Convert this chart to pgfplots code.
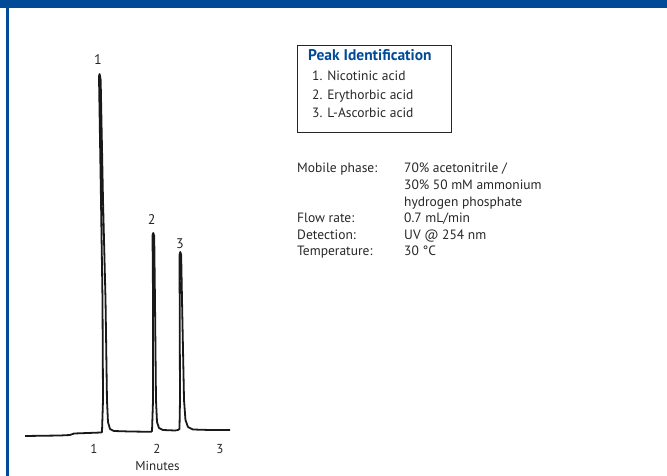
\documentclass[border=0pt]{standalone}
\usepackage{pgfplots}
\pgfplotsset{compat=1.18}
\usepackage{fontspec}
\setmainfont{PT Sans}
\definecolor{hdrblue}{RGB}{0,74,152}
\definecolor{txt}{RGB}{40,38,38}
\definecolor{trace}{RGB}{25,25,25}

\begin{document}
\begin{tikzpicture}
\useasboundingbox (0pt,0pt) rectangle (667pt,-476pt);
% header bar and left rule
\fill[hdrblue] (0pt,0pt) rectangle (667pt,-8pt);
\fill[hdrblue] (6pt,0pt) rectangle (8.7pt,-476pt);

% peak identification box
\draw[black!85, line width=0.9pt] (297pt,-45pt) rectangle (451pt,-132pt);
\begin{scope}[every node/.style={anchor=base west, inner sep=0pt, text=txt,
    font=\fontsize{13.5}{16}\selectfont}]
\node[text=hdrblue, font=\bfseries\fontsize{15.5}{18}\selectfont] at (308pt,-61pt) {Peak Identification};
\node at (312pt,-80.7pt) {1. Nicotinic acid};
\node at (312pt,-99.3pt) {2. Erythorbic acid};
\node at (312pt,-118pt) {3. L-Ascorbic acid};

% conditions
\node at (297pt,-173pt) {Mobile phase:};
\node at (404pt,-173pt) {70\% acetonitrile /};
\node at (404pt,-189.5pt) {30\% 50 mM ammonium};
\node at (404pt,-206pt) {hydrogen phosphate};
\node at (297pt,-222.5pt) {Flow rate:};
\node at (404pt,-222.5pt) {0.7 mL/min};
\node at (297pt,-239pt) {Detection:};
\node at (404pt,-239pt) {UV @ 254 nm};
\node at (297pt,-255.5pt) {Temperature:};
\node at (404pt,-255.5pt) {30 °C};
\end{scope}

\begin{axis}[
    at={(18.4pt,-441pt)}, anchor=south west,
    width=220.5pt, height=385pt, scale only axis,
    xmin=-0.2, xmax=3.3, ymin=35, ymax=420,
    axis y line=none, axis x line=bottom,
    x axis line style={draw=none},
    xtick={1,2,3}, major tick length=0pt,
    /pgf/number format/assume math mode=true,
    tick label style={text=txt, font=\fontsize{13}{15}\selectfont},
    xlabel={Minutes},
    xlabel style={at={(ticklabel cs:0.631)}, text=txt, font=\fontsize{13}{15}\selectfont, yshift=-1pt},
    clip=false,
  ]
\addplot[trace, line width=1.8pt, line join=round] coordinates {
  (-0.095,40) (0.46,40.5) (0.619,41) (0.683,42.5) (1.111,43.5)
  (1.127,44) (1.143,76) (1.135,176) (1.111,276) (1.079,400)
  (1.090,402)
  (1.106,396) (1.143,276) (1.183,176) (1.206,76) (1.222,54) (1.254,47) (1.317,45)
  (1.571,44.5) (1.905,44.2)
  (1.921,45) (1.937,76) (1.937,176) (1.929,241)
  (1.941,243)
  (1.956,240) (1.968,176) (1.984,76) (2.0,54) (2.032,48) (2.095,46) (2.286,45.5) (2.333,46)
  (2.357,47) (2.365,76) (2.360,176) (2.357,221)
  (2.370,224)
  (2.384,221) (2.397,176) (2.429,76) (2.452,56) (2.492,49) (2.571,46.5) (2.841,46) (3.159,46)
};
\node[anchor=base, inner sep=0pt, text=txt, font=\fontsize{14}{16}\selectfont] at (axis cs:1.063,411) {1};
\node[anchor=base, inner sep=0pt, text=txt, font=\fontsize{14}{16}\selectfont] at (axis cs:1.916,252) {2};
\node[anchor=base, inner sep=0pt, text=txt, font=\fontsize{14}{16}\selectfont] at (axis cs:2.365,228) {3};
\end{axis}
\end{tikzpicture}
\end{document}
